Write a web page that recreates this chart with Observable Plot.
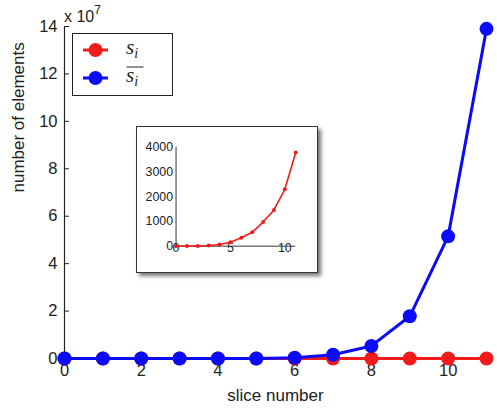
<!DOCTYPE html>
<html><head><meta charset="utf-8">
<script src="https://cdn.jsdelivr.net/npm/d3@7"></script>
<script src="https://cdn.jsdelivr.net/npm/@observablehq/plot@0.6"></script>
<style>
body{margin:0;background:#fff;}
#wrap{position:relative;width:497px;height:413px;font-family:"Liberation Sans",Arial,sans-serif;color:#222;}
#wrap > svg{position:absolute;left:0;top:0;}
#inset{position:absolute;left:136px;top:126px;width:182px;height:147px;background:#fff;border:1px solid #333;box-sizing:border-box;box-shadow:3px 3px 4px rgba(0,0,0,0.55);}
#inset svg{position:absolute;left:-1px;top:-1px;}
#legend{position:absolute;left:72px;top:33px;width:101px;height:63px;background:#fff;border:1px solid #222;box-sizing:border-box;}
#legend svg{position:absolute;left:-1px;top:-1px;}
#exp{position:absolute;left:64px;top:5px;font-size:16px;}
#exp sup{font-size:12px;position:relative;top:-2px;}
</style></head>
<body><div id="wrap"></div>
<script>
// data
const slices = [0,1,2,3,4,5,6,7,8,9,10,11];
const sVals = [1,3,8,25,65,160,340,560,975,1465,2300,3790];            // s_i
const sBarVals = [0,0,0,0,0,0.002,0.03,0.16,0.53,1.78,5.15,13.9];     // s̄_i in units of 1e7
const xTicksMain = [0,2,4,6,8,10];
const yTicksMain = [0,2,4,6,8,10,12,14];
const xTicksInset = [0,5,10];
const yTicksInset = [0,1000,2000,3000,4000];
const seriesNames = ["s", "s"];
const seriesSubs = ["i", "i"];
const RED = "#f21b1b", BLUE = "#0b0bf5";

const sData = slices.map((x,i)=>({x, v: sVals[i]}));
const bData = slices.map((x,i)=>({x, v: sBarVals[i]}));

const wrap = document.getElementById("wrap");

const main = Plot.plot({
  width:497, height:413,
  marginLeft:64, marginRight:11, marginTop:26, marginBottom:55,
  x:{domain:[0,11]}, y:{domain:[0,14]},
  style:{fontFamily:'"Liberation Sans",Arial,sans-serif', fontSize:"16px", color:"#222", background:"transparent"},
  marks:[
    Plot.axisY({ticks:yTicksMain, tickSize:0, tickPadding:7, label:null, fontSize:16.5}),
    Plot.axisX({ticks:xTicksMain, tickSize:0, tickPadding:6, label:null, fontSize:16.5}),
    Plot.tickY(yTicksMain, {y:d=>d, stroke:"#222", insetRight:417}),
    Plot.tickX(xTicksMain, {x:d=>d, stroke:"#222", insetTop:327}),
    Plot.ruleX([0], {stroke:"#222", strokeWidth:1.2}),
    Plot.ruleY([0], {stroke:"#222", strokeWidth:1.2}),
    Plot.text(["slice number"], {frameAnchor:"bottom", dy:42, fontSize:17, fill:"#222"}),
    Plot.text(["number of elements"], {frameAnchor:"left", dx:-46, rotate:-90, fontSize:17, fill:"#222"}),
    Plot.line(sData, {x:"x", y:d=>d.v/1e7, stroke:RED, strokeWidth:3}),
    Plot.dot(sData, {x:"x", y:d=>d.v/1e7, r:7, fill:RED}),
    Plot.line(bData, {x:"x", y:"v", stroke:BLUE, strokeWidth:3}),
    Plot.dot(bData, {x:"x", y:"v", r:7, fill:BLUE})
  ]
});
wrap.appendChild(main);

const exp = document.createElement("div");
exp.id = "exp";
exp.innerHTML = "x 10<sup>7</sup>";
wrap.appendChild(exp);

// inset
const insetDiv = document.createElement("div");
insetDiv.id = "inset";
const inset = Plot.plot({
  width:182, height:147,
  marginLeft:40, marginRight:21, marginTop:21, marginBottom:26,
  x:{domain:[0,11]}, y:{domain:[0,4000]},
  style:{fontFamily:'"Liberation Sans",Arial,sans-serif', fontSize:"12.5px", color:"#222", background:"transparent"},
  marks:[
    Plot.axisY({ticks:yTicksInset, tickFormat:d=>String(d), tickSize:0, tickPadding:3, label:null}),
    Plot.axisX({ticks:xTicksInset, tickFormat:d=>String(d), tickSize:0, tickPadding:-3, label:null}),
    Plot.ruleX([0], {stroke:"#333"}),
    Plot.ruleY([0], {stroke:"#333"}),
    Plot.line(sData, {x:"x", y:"v", stroke:RED, strokeWidth:1.6}),
    Plot.dot(sData, {x:"x", y:"v", r:2, fill:RED})
  ]
});
insetDiv.appendChild(inset);
wrap.appendChild(insetDiv);

// legend
const leg = document.createElement("div");
leg.id = "legend";
const colors = [RED, BLUE];
const rowsY = [17, 45];
const lsvg = d3.create("svg").attr("width", 101).attr("height", 63);
seriesNames.forEach((name, i) => {
  const g = lsvg.append("g");
  g.append("line").attr("x1",11).attr("x2",36).attr("y1",rowsY[i]).attr("y2",rowsY[i]).attr("stroke",colors[i]).attr("stroke-width",3);
  g.append("circle").attr("cx",23.5).attr("cy",rowsY[i]).attr("r",7).attr("fill",colors[i]);
  const t = g.append("text").attr("x",54).attr("y",rowsY[i]+4)
    .attr("font-family",'"Liberation Serif","DejaVu Serif",serif').attr("font-style","italic").attr("font-size",21).attr("fill","#222");
  t.append("tspan").text(name);
  t.append("tspan").attr("dy",4).attr("font-size",14).text(seriesSubs[i]);
  if (i === 1) g.append("line").attr("x1",54.5).attr("x2",71.5).attr("y1",rowsY[i]-11).attr("y2",rowsY[i]-11).attr("stroke","#222").attr("stroke-width",1);
});
leg.appendChild(lsvg.node());
wrap.appendChild(leg);
</script>
</body></html>
